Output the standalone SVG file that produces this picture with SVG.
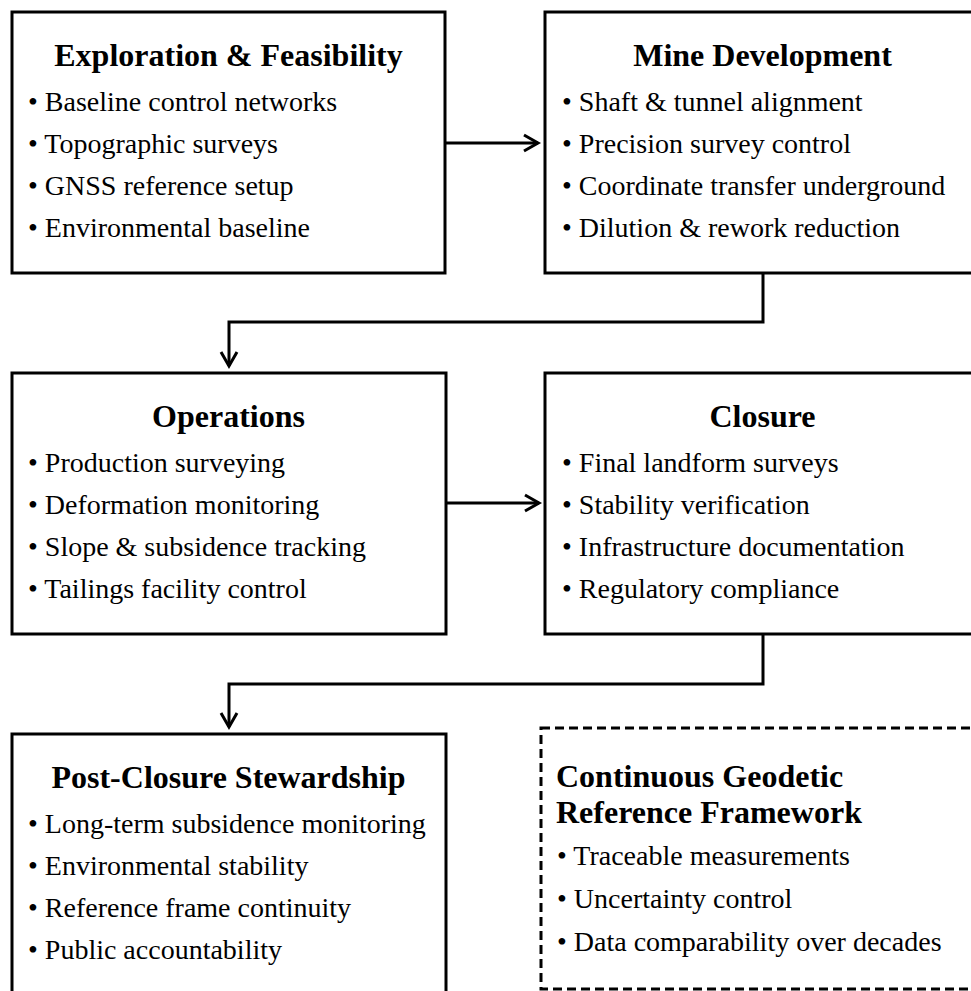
<svg xmlns="http://www.w3.org/2000/svg" width="971" height="991" viewBox="0 0 971 991">
<defs>
<style>
.box{fill:#fff;stroke:#000;stroke-width:3}
.dash{fill:#fff;stroke:#000;stroke-width:3;stroke-dasharray:9 5}
.title{font-family:"Liberation Serif","Times New Roman",serif;font-weight:bold;font-size:32px;fill:#000}
.item{font-family:"Liberation Serif","Times New Roman",serif;font-size:28px;fill:#000}
.conn{fill:none;stroke:#000;stroke-width:3}
</style>
<marker id="arr" markerUnits="userSpaceOnUse" markerWidth="30" markerHeight="30" viewBox="-20 -15 30 30" refX="0" refY="0" orient="auto">
<path d="M-14,-8 L0,0 L-14,8" fill="none" stroke="#000" stroke-width="3"/>
</marker>
</defs>
<rect width="971" height="991" fill="#fff"/>
<g id="connectors">
<path class="conn" d="M445,143 H538" marker-end="url(#arr)"/>
<path class="conn" d="M763,273 V322 H229 V366" marker-end="url(#arr)"/>
<path class="conn" d="M446,503 H539" marker-end="url(#arr)"/>
<path class="conn" d="M763,634 V684 H229 V727" marker-end="url(#arr)"/>
</g>
<g id="exploration">
<rect class="box" x="12" y="12" width="433" height="261"/>
<text class="title" x="228.5" y="66" text-anchor="middle">Exploration &amp; Feasibility</text>
<text class="item" x="28" y="111">• Baseline control networks</text>
<text class="item" x="28" y="153">• Topographic surveys</text>
<text class="item" x="28" y="195">• GNSS reference setup</text>
<text class="item" x="28" y="237">• Environmental baseline</text>
</g>
<g id="development">
<rect class="box" x="545" y="12" width="434" height="261"/>
<text class="title" x="762.5" y="66" text-anchor="middle">Mine Development</text>
<text class="item" x="562" y="111">• Shaft &amp; tunnel alignment</text>
<text class="item" x="562" y="153">• Precision survey control</text>
<text class="item" x="562" y="195">• Coordinate transfer underground</text>
<text class="item" x="562" y="237">• Dilution &amp; rework reduction</text>
</g>
<g id="operations">
<rect class="box" x="12" y="373" width="434" height="261"/>
<text class="title" x="228.5" y="427" text-anchor="middle">Operations</text>
<text class="item" x="28" y="472">• Production surveying</text>
<text class="item" x="28" y="514">• Deformation monitoring</text>
<text class="item" x="28" y="556">• Slope &amp; subsidence tracking</text>
<text class="item" x="28" y="598">• Tailings facility control</text>
</g>
<g id="closure">
<rect class="box" x="545" y="373" width="434" height="261"/>
<text class="title" x="762.5" y="427" text-anchor="middle">Closure</text>
<text class="item" x="562" y="472">• Final landform surveys</text>
<text class="item" x="562" y="514">• Stability verification</text>
<text class="item" x="562" y="556">• Infrastructure documentation</text>
<text class="item" x="562" y="598">• Regulatory compliance</text>
</g>
<g id="postclosure">
<rect class="box" x="12" y="734" width="434" height="262"/>
<text class="title" x="228.5" y="788" text-anchor="middle">Post-Closure Stewardship</text>
<text class="item" x="28" y="833">• Long-term subsidence monitoring</text>
<text class="item" x="28" y="875">• Environmental stability</text>
<text class="item" x="28" y="917">• Reference frame continuity</text>
<text class="item" x="28" y="959">• Public accountability</text>
</g>
<g id="framework">
<rect class="dash" x="541" y="728" width="440" height="261"/>
<text class="title" x="556" y="787">Continuous Geodetic</text>
<text class="title" x="556" y="823">Reference Framework</text>
<text class="item" x="557" y="865">• Traceable measurements</text>
<text class="item" x="557" y="908">• Uncertainty control</text>
<text class="item" x="557" y="951">• Data comparability over decades</text>
</g>
</svg>
